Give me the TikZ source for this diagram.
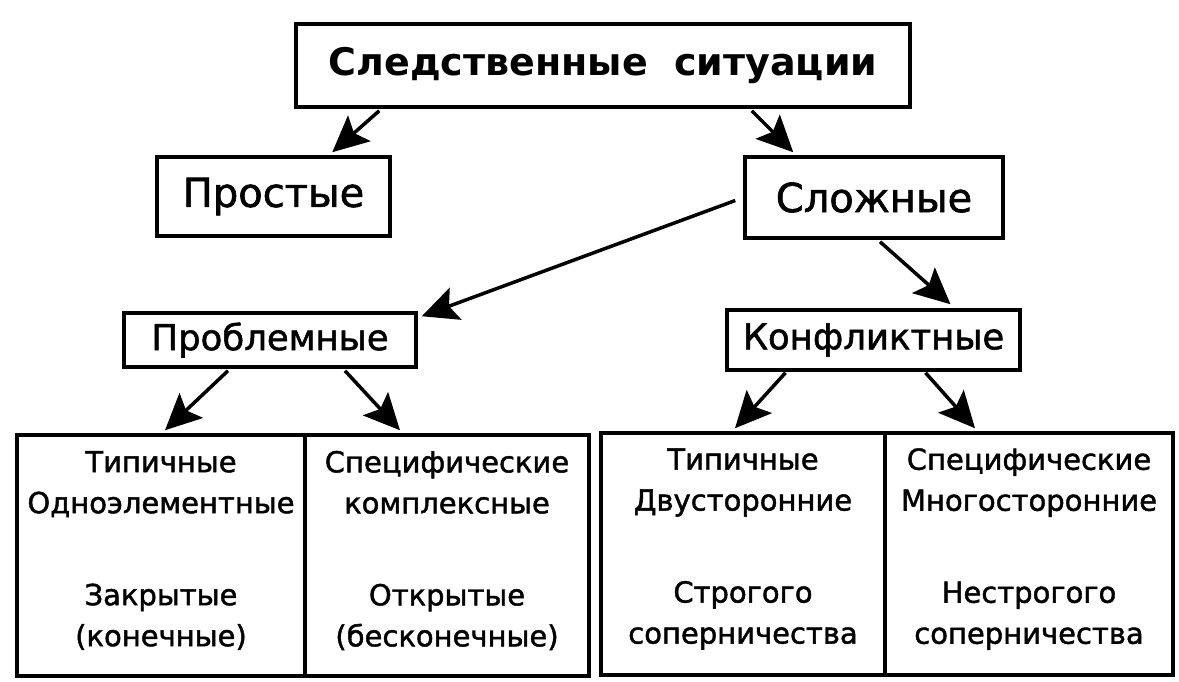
\documentclass[tikz,border=0pt]{standalone}
\usepackage{fontspec}
\setmainfont{DejaVu Sans}
\newfontfamily\medfont{DejaVu Sans}[FakeBold=1.5]
\usetikzlibrary{arrows.meta,calc}
\tikzset{
  box/.style={draw, line width=3.5pt, inner sep=0pt, align=center},
  cell/.style={draw, line width=3.5pt, inner sep=0pt},
  celltext/.style={inner sep=0pt, align=center, font=\medfont\fontsize{29}{41}\selectfont},
  arr/.style={line width=3.5pt, -{Stealth[length=36pt,width=34pt,inset=7pt]}}
}
\begin{document}
\begin{tikzpicture}[x=1pt,y=-1pt]
\useasboundingbox[fill=white] (0,0) rectangle (1179,681);
\node[box, minimum width=614pt, minimum height=83pt, font=\fontsize{38}{44}\selectfont\bfseries] (title) at (603,65.5) {Следственные\ \ ситуации};
\node[box, minimum width=233pt, minimum height=79pt, font=\medfont\fontsize{40}{46}\selectfont] (prost) at (273.5,196.5) {Простые};
\node[box, minimum width=258pt, minimum height=81pt, font=\medfont\fontsize{40}{46}\selectfont] (slozh) at (874,197.5) {Сложные};
\node[box, minimum width=292pt, minimum height=54pt, font=\medfont\fontsize{35.5}{40}\selectfont] (probl) at (270,340) {Проблемные};
\node[box, minimum width=293pt, minimum height=60pt, font=\medfont\fontsize{35.5}{40}\selectfont] (konf) at (873.5,340) {Конфликтные};
\node[cell, minimum width=288pt, minimum height=241pt] (L1) at (161,555.5) {};
\node[cell, minimum width=284pt, minimum height=241pt] (L2) at (447,555.5) {};
\node[cell, minimum width=284pt, minimum height=242pt] (R1) at (743,554) {};
\node[cell, minimum width=288pt, minimum height=242pt] (R2) at (1029,554) {};
\node[celltext] (L1t) at ([yshift=5pt]L1.center) {Типичные\\Одноэлементные\\[51pt]Закрытые\\(конечные)};
\node[celltext] (L2t) at ([yshift=5pt]L2.center) {Специфические\\комплексные\\[51pt]Открытые\\(бесконечные)};
\node[celltext] (R1t) at ([yshift=5pt]R1.center) {Типичные\\Двусторонние\\[51pt]Строгого\\соперничества};
\node[celltext] (R2t) at ([yshift=5pt]R2.center) {Специфические\\Многосторонние\\[51pt]Нестрогого\\соперничества};
\draw[arr] ([xshift=85pt,yshift=-2pt]title.south west) -- ([xshift=177pt,yshift=3pt]prost.north west);
\draw[arr] ([xshift=-160pt,yshift=-2pt]title.south east) -- ([xshift=50pt,yshift=3pt]slozh.north west);
\draw[arr] ([xshift=-8pt,yshift=-3pt]slozh.west) -- ([xshift=4pt,yshift=-5pt]probl.north east);
\draw[arr] ([xshift=6pt,yshift=-2pt]slozh.south) -- ([xshift=77pt,yshift=4pt]konf.north);
\draw[arr] ([xshift=-42pt,yshift=-2pt]probl.south) -- ([xshift=4pt,yshift=3pt]L1.north);
\draw[arr] ([xshift=75pt,yshift=-2pt]probl.south) -- ([xshift=-47pt,yshift=3pt]L2.north);
\draw[arr] ([xshift=-88pt,yshift=-1pt]konf.south) -- ([xshift=-8pt,yshift=3pt]R1.north);
\draw[arr] ([xshift=52pt,yshift=-1pt]konf.south) -- ([xshift=-54pt,yshift=3pt]R2.north);
\end{tikzpicture}
\end{document}
